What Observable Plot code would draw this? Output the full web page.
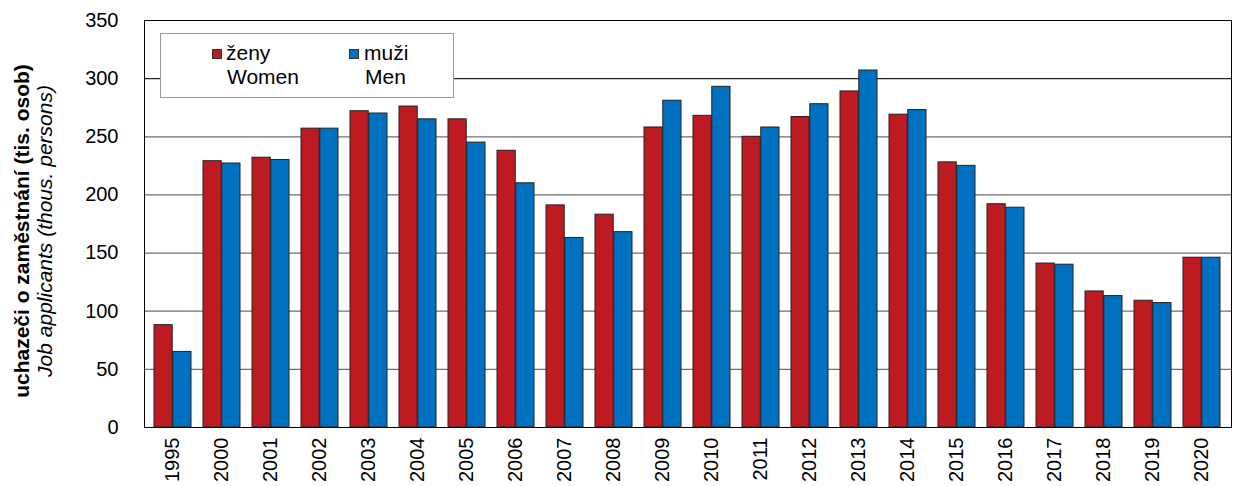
<!DOCTYPE html>
<html>
<head>
<meta charset="utf-8">
<script src="https://cdn.jsdelivr.net/npm/d3@7"></script>
<script src="https://cdn.jsdelivr.net/npm/@observablehq/plot@0.6"></script>
<style>
  html, body { margin: 0; padding: 0; background: #fff; }
  #wrap { position: relative; width: 1235px; height: 486px; font-family: "Liberation Sans", Arial, sans-serif; color: #000; }
  .ylab { position: absolute; white-space: nowrap; font-size: 21px; line-height: 21px; transform: translate(-50%, -50%) rotate(-90deg); }
  #legend { position: absolute; left: 160px; top: 33px; width: 292px; height: 63px; border: 1px solid #9a9a9a; background: #fff; font-size: 21px; line-height: 21px; }
  .sw { position: absolute; width: 8px; height: 8px; border: 1px solid #333; }
  .lt { position: absolute; white-space: nowrap; }
</style>
</head>
<body>
<div id="wrap">
  <div id="chart"></div>
  <div class="ylab" style="left:21px; top:231px; font-weight:bold;">uchazeči o zaměstnání (tis. osob)</div>
  <div class="ylab" style="left:44px; top:231px; font-style:italic;">Job applicants (thous. persons)</div>
  <div id="legend">
    <div class="sw" style="left:51px; top:15px; background:#BE1A22;"></div>
    <div class="lt" style="left:65px; top:8px;">ženy</div>
    <div class="lt" style="left:66px; top:32px;">Women</div>
    <div class="sw" style="left:188px; top:15px; background:#0070C0;"></div>
    <div class="lt" style="left:203px; top:8px;">muži</div>
    <div class="lt" style="left:204px; top:32px;">Men</div>
  </div>
</div>
<script>
const years = ["1995","2000","2001","2002","2003","2004","2005","2006","2007","2008","2009","2010","2011","2012","2013","2014","2015","2016","2017","2018","2019","2020"];
const women = [88, 229, 232, 257, 272, 276, 265, 238, 191, 183, 258, 268, 250, 267, 289, 269, 228, 192, 141, 117, 109, 146];
const men   = [65, 227, 230, 257, 270, 265, 245, 210, 163, 168, 281, 293, 258, 278, 307, 273, 225, 189, 140, 113, 107, 146];
const yTicks = [0, 50, 100, 150, 200, 250, 300, 350];

const data = years.map((y, i) => ({year: y, women: women[i], men: men[i]}));

const W = 1235, H = 486, mL = 144, mR = 4, mT = 20, mB = 59;
const pIn = 0.24, pOut = 0.12;
const bw = d3.scaleBand().domain(years).range([mL, W - mR]).paddingInner(pIn).paddingOuter(pOut).bandwidth();

const chart = Plot.plot({
  width: W, height: H,
  marginLeft: mL, marginRight: mR, marginTop: mT, marginBottom: mB,
  style: {fontFamily: "'Liberation Sans', Arial, sans-serif", fontSize: "20px", color: "#000", background: "#fff"},
  x: {domain: years, paddingInner: pIn, paddingOuter: pOut, label: null},
  y: {domain: [0, 350], label: null},
  marks: [
    Plot.ruleY(yTicks.filter(d => d > 0 && d < 350), {stroke: d => d === 300 ? "#222" : "#6f6f6f", strokeWidth: 1.2}),
    Plot.barY(data, {x: "year", y: "women", fill: "#BE1A22", stroke: "#222", strokeWidth: 1, insetRight: bw / 2}),
    Plot.barY(data, {x: "year", y: "men", fill: "#0070C0", stroke: "#222", strokeWidth: 1, insetLeft: bw / 2}),
    Plot.frame({stroke: "#000", strokeWidth: 1}),
    Plot.axisY({ticks: yTicks, tickSize: 0, tickPadding: 26, fontSize: 20, label: null}),
    Plot.axisX({tickRotate: -90, tickSize: 0, tickPadding: 10, fontSize: 20, label: null})
  ]
});
document.getElementById("chart").appendChild(chart);
</script>
</body>
</html>
